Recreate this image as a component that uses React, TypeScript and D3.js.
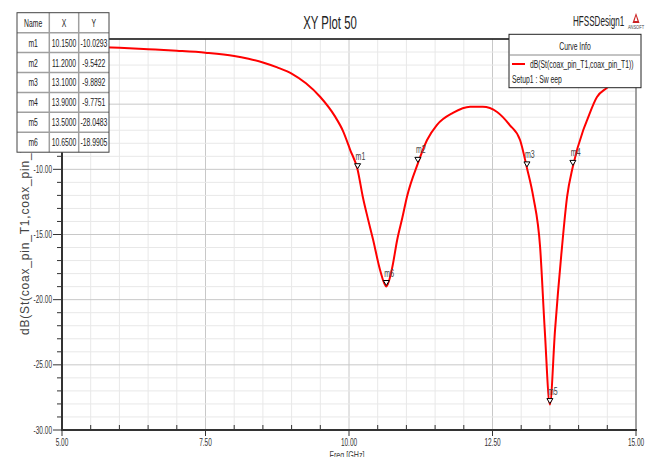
import React from "react";
import * as d3 from "d3";

const freq = [5.0, 5.5, 6.0, 6.5, 7.0, 7.5, 8.0, 8.25, 8.5, 8.75, 9.0, 9.25, 9.5, 9.75, 9.9, 10.02, 10.15, 10.24, 10.33, 10.42, 10.54, 10.65, 10.75, 10.84, 10.93, 11.01, 11.2, 11.36, 11.53, 11.81, 12.11, 12.33, 12.58, 12.8, 12.98, 13.1, 13.21, 13.33, 13.41, 13.5, 13.59, 13.71, 13.8, 13.9, 14.08, 14.15, 14.32, 14.49, 14.75, 15.0];
const dB = [-0.55, -0.6, -0.67, -0.78, -0.9, -1.05, -1.3, -1.52, -1.8, -2.18, -2.65, -3.4, -4.45, -5.9, -7.1, -8.5, -10.03, -12.1, -13.8, -15.4, -17.7, -18.99, -17.6, -15.4, -13.7, -12.1, -9.54, -7.75, -6.6, -5.67, -5.2, -5.2, -5.6, -6.6, -7.75, -9.89, -12.1, -16.0, -22.3, -28.05, -22.3, -16.0, -12.1, -9.78, -7.0, -6.2, -4.45, -3.76, -2.9, -2.2];

const markerNames = ["m1", "m2", "m3", "m4", "m5", "m6"];
const markerX = [10.15, 11.2, 13.1, 13.9, 13.5, 10.65];
const markerY = [-10.0293, -9.5422, -9.8892, -9.7751, -28.0483, -18.9905];

const xTickLabels = ["5.00", "7.50", "10.00", "12.50", "15.00"];
const yTickLabels = ["-10.00", "-15.00", "-20.00", "-25.00", "-30.00"];
const yLabeledValues = [-10, -15, -20, -25, -30];
const xLabeledValues = [5, 7.5, 10, 12.5, 15];

const title = "XY Plot 50";
const designName = "HFSSDesign1";
const legendTitle = "Curve Info";
const seriesName = "dB(St(coax_pin_T1,coax_pin_T1))";
const setupName = "Setup1 : Sw eep";
const yAxisTitle = "dB(St(coax_pin_T1,coax_pin_T1)) []";
const xAxisTitle = "Freq [GHz]";

const FONT = "'Liberation Sans', Arial, sans-serif";

function NText(props: { x: number; y: number; size: number; sx?: number; anchor?: string; fill?: string; children: React.ReactNode; rotate?: number; ls?: number }) {
  const { x, y, size, sx = 0.65, anchor = "start", fill = "#222", rotate = 0, ls = 0 } = props;
  return (
    <text
      transform={`translate(${x},${y}) rotate(${rotate}) scale(${sx},1)`}
      fontFamily={FONT}
      fontSize={size}
      textAnchor={anchor}
      fill={fill}
      letterSpacing={ls}
    >
      {props.children}
    </text>
  );
}

export default function App() {
  const W = 656, H = 457;
  const left = 62, right = 636, top = 39, bottom = 430;
  const x = d3.scaleLinear().domain([5, 15]).range([left, right]);
  const y = d3.scaleLinear().domain([-30, 0]).range([bottom, top]);

  const xMinor = d3.range(5, 15.001, 0.5);
  const yMinor = d3.range(-30, 0.001, 1);
  const isMajorX = (v: number) => Math.abs(v / 2.5 - Math.round(v / 2.5)) < 1e-6;
  const isMajorY = (v: number) => Math.abs(v / 5 - Math.round(v / 5)) < 1e-6;

  const line = d3
    .line<number>()
    .x((_, i) => x(freq[i]))
    .y((d) => y(d))
    .curve(d3.curveMonotoneX);

  // table geometry
  const tX = [17, 49.3, 78.7, 109];
  const tTop = 12.7;
  const rowH = 19.93;
  const colCenters = [(tX[0] + tX[1]) / 2, (tX[1] + tX[2]) / 2, (tX[2] + tX[3]) / 2];

  return (
    <svg width={W} height={H} style={{ position: "absolute", left: 0, top: 0, background: "#fff" }}>
      <rect x={0} y={0} width={W} height={H} fill="#fff" />
      <defs>
        <clipPath id="plotClip">
          <rect x={left} y={top} width={right - left} height={bottom - top} />
        </clipPath>
      </defs>

      {/* grid */}
      {xMinor.map((v, i) => (
        <line key={"gx" + i} x1={x(v)} x2={x(v)} y1={top} y2={bottom} stroke={isMajorX(v) ? "#c8c8c8" : "#e8e8e8"} strokeWidth={1} />
      ))}
      {yMinor.map((v, i) => (
        <line key={"gy" + i} x1={left} x2={right} y1={y(v)} y2={y(v)} stroke={isMajorY(v) ? "#c8c8c8" : "#e8e8e8"} strokeWidth={1} />
      ))}

      {/* y ticks */}
      {yMinor.map((v, i) => (
        <line key={"ty" + i} x1={left - (isMajorY(v) ? 9 : 5)} x2={left} y1={y(v)} y2={y(v)} stroke="#333" strokeWidth={1} />
      ))}
      {/* x ticks */}
      {xMinor.map((v, i) =>
        isMajorX(v) ? (
          <line key={"tx" + i} x1={x(v)} x2={x(v)} y1={bottom} y2={bottom + 6} stroke="#333" strokeWidth={1} />
        ) : (
          <line key={"tx" + i} x1={x(v)} x2={x(v)} y1={bottom - 5} y2={bottom} stroke="#333" strokeWidth={1} />
        )
      )}

      {/* borders */}
      <line x1={right} x2={right} y1={top} y2={bottom} stroke="#8a8a8a" strokeWidth={1.5} />
      <line x1={left - 1} x2={right} y1={top} y2={top} stroke="#111" strokeWidth={1.5} />
      <line x1={left} x2={left} y1={top} y2={bottom + 1} stroke="#333" strokeWidth={2} />
      <line x1={left - 1} x2={right + 1} y1={bottom} y2={bottom} stroke="#333" strokeWidth={2} />

      {/* tick labels */}
      {yLabeledValues.map((v, i) => (
        <NText key={"yl" + i} x={52} y={y(v) + 3.5} size={10} anchor="end" fill="#333">
          {yTickLabels[i]}
        </NText>
      ))}
      {xLabeledValues.map((v, i) => (
        <NText key={"xl" + i} x={x(v)} y={446} size={10} anchor="middle" fill="#333">
          {xTickLabels[i]}
        </NText>
      ))}

      {/* axis titles */}
      <NText x={29} y={335} size={12} rotate={-90} sx={1} ls={0.8} fill="#444">
        {yAxisTitle}
      </NText>
      <NText x={347} y={459} size={11} anchor="middle" fill="#444">
        {xAxisTitle}
      </NText>

      {/* curve */}
      <g clipPath="url(#plotClip)">
        <path d={line(dB) || ""} fill="none" stroke="#ff0000" strokeWidth={2} />
      </g>

      {/* markers */}
      {markerNames.map((n, i) => {
        const px = x(markerX[i]);
        const py = y(markerY[i]) - 1;
        return (
          <g key={"m" + i}>
            <path d={`M${px},${py} L${px - 3},${py - 5} L${px + 3},${py - 5} Z`} fill="#fff" stroke="#000" strokeWidth={1} />
            <NText x={px - 2} y={py - 9} size={10} sx={0.7} fill="#444">
              {n}
            </NText>
          </g>
        );
      })}

      {/* title */}
      <NText x={330} y={29} size={19} anchor="middle" sx={0.6} fill="#222">
        {title}
      </NText>
      <NText x={573} y={26} size={15} sx={0.54} fill="#222">
        {designName}
      </NText>
      {/* ANSOFT logo */}
      <path d="M636,13 L632.5,23 L639.5,23 Z" fill="#c22" />
      <path d="M636,16 L634.5,21 L637.5,21 Z" fill="#fff" />
      <NText x={636} y={29} size={5} anchor="middle" sx={0.8} fill="#444">
        ANSOFT
      </NText>

      {/* legend */}
      <rect x={509} y={34.3} width={132} height={53.4} fill="#fff" stroke="#222" strokeWidth={1} />
      <line x1={509} x2={641} y1={55} y2={55} stroke="#888" strokeWidth={1} />
      <NText x={575} y={50} size={10.5} anchor="middle" sx={0.65} fill="#222">
        {legendTitle}
      </NText>
      <line x1={512} x2={525} y1={64} y2={64} stroke="#ff0000" strokeWidth={2} />
      <NText x={530} y={68.3} size={10} sx={0.68} fill="#222">
        {seriesName}
      </NText>
      <NText x={512} y={83} size={10} sx={0.68} fill="#222">
        {setupName}
      </NText>

      {/* marker table */}
      <rect x={tX[0]} y={tTop} width={tX[3] - tX[0]} height={rowH * 7} fill="#fff" />
      {d3.range(1, 7).map((r) => (
        <line key={"tr" + r} x1={tX[0]} x2={tX[3]} y1={tTop + rowH * r} y2={tTop + rowH * r} stroke="#a0a0a0" strokeWidth={1.5} />
      ))}
      {[1, 2].map((c) => (
        <line key={"tc" + c} x1={tX[c]} x2={tX[c]} y1={tTop} y2={tTop + rowH * 7} stroke="#a0a0a0" strokeWidth={1.5} />
      ))}
      <rect x={tX[0]} y={tTop} width={tX[3] - tX[0]} height={rowH * 7} fill="none" stroke="#444" strokeWidth={1} />
      {["Name", "X", "Y"].map((h, c) => (
        <NText key={"th" + c} x={colCenters[c]} y={tTop + rowH / 2 + 4} size={11} anchor="middle" sx={0.62} fill="#222">
          {h}
        </NText>
      ))}
      {markerNames.map((n, r) => {
        const cy = tTop + rowH * (r + 1) + rowH / 2 + 4;
        return (
          <g key={"row" + r}>
            <NText x={colCenters[0]} y={cy} size={11} anchor="middle" sx={0.62} fill="#222">
              {n}
            </NText>
            <NText x={colCenters[1]} y={cy} size={11} anchor="middle" sx={0.62} fill="#222">
              {markerX[r].toFixed(4)}
            </NText>
            <NText x={colCenters[2]} y={cy} size={11} anchor="middle" sx={0.62} fill="#222">
              {markerY[r].toFixed(4)}
            </NText>
          </g>
        );
      })}
    </svg>
  );
}
